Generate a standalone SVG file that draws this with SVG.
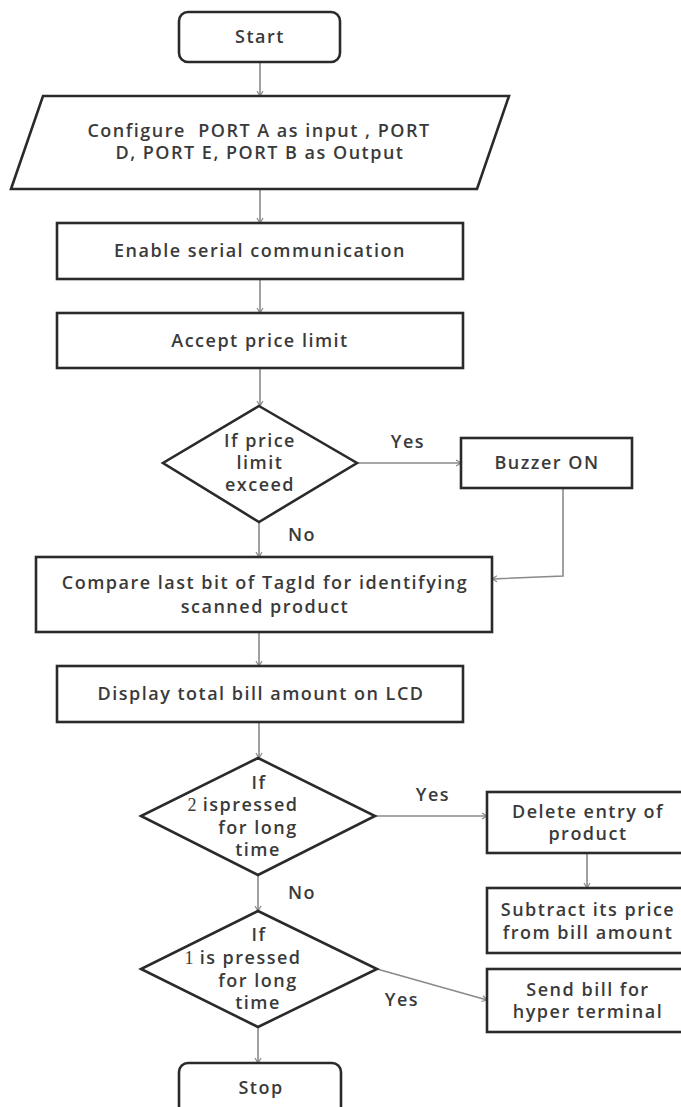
<svg xmlns="http://www.w3.org/2000/svg" width="681" height="1107" viewBox="0 0 681 1107">
<defs>
<marker id="ah" markerWidth="8" markerHeight="8" refX="6" refY="4" orient="auto" markerUnits="userSpaceOnUse">
<path d="M1,1 L6,4 L1,7" fill="none" stroke="#888" stroke-width="1.2"/>
</marker>
<style>
.shape{fill:#fff;stroke:#2a2a2a;stroke-width:2.6}
.t{font-family:"Open Sans","Noto Sans","Liberation Sans",sans-serif;font-weight:600;font-size:18px;fill:#3a3a3a;text-anchor:middle;letter-spacing:1.5px}
.n{font-family:"Liberation Serif",serif;font-weight:400;letter-spacing:0}
.c{fill:none;stroke:#8a8a8a;stroke-width:1.6;marker-end:url(#ah)}
</style>
</defs>
<rect width="681" height="1107" fill="#fff"/>
<g id="connectors">
<path class="c" d="M260,62 V96"/>
<path class="c" d="M260,189 V223"/>
<path class="c" d="M260,279 V313"/>
<path class="c" d="M260,368 V406"/>
<path class="c" d="M357,463 H461"/>
<path class="c" d="M259,522 V557"/>
<path class="c" d="M563,488 V576 L492,579"/>
<path class="c" d="M259,632 V666"/>
<path class="c" d="M259,722 V758"/>
<path class="c" d="M375,816 H487"/>
<path class="c" d="M258,875 V911"/>
<path class="c" d="M587,853 V888"/>
<path class="c" d="M377,969 L487,1000"/>
<path class="c" d="M258,1027 V1063"/>
<text class="t" x="408" y="448">Yes</text>
<text class="t" x="302" y="541">No</text>
<text class="t" x="433" y="801">Yes</text>
<text class="t" x="302" y="899">No</text>
<text class="t" x="402" y="1006">Yes</text>
</g>
<g id="start">
<rect class="shape" x="179" y="12" width="161" height="50" rx="9"/>
<text class="t" x="260" y="43">Start</text>
</g>
<g id="configure">
<polygon class="shape" points="43,96 509,96 477,189 11,189"/>
<text class="t" x="259" y="137" style="white-space:pre">Configure  PORT A as input , PORT</text>
<text class="t" x="260" y="159">D, PORT E, PORT B as Output</text>
</g>
<g id="enable">
<rect class="shape" x="57" y="223" width="406" height="56"/>
<text class="t" x="260" y="257">Enable serial communication</text>
</g>
<g id="accept">
<rect class="shape" x="57" y="313" width="406" height="55"/>
<text class="t" x="260" y="347">Accept price limit</text>
</g>
<g id="decision-price">
<polygon class="shape" points="259,406 357,463 259,522 163,463"/>
<text class="t" x="260" y="447">If price</text>
<text class="t" x="260" y="469">limit</text>
<text class="t" x="260" y="491">exceed</text>
</g>
<g id="buzzer">
<rect class="shape" x="461" y="438" width="171" height="50"/>
<text class="t" x="547" y="469">Buzzer ON</text>
</g>
<g id="compare">
<rect class="shape" x="36" y="557" width="456" height="75"/>
<text class="t" x="265" y="589">Compare last bit of TagId for identifying</text>
<text class="t" x="265" y="613">scanned product</text>
</g>
<g id="display">
<rect class="shape" x="57" y="666" width="406" height="56"/>
<text class="t" x="261" y="700">Display total bill amount on LCD</text>
</g>
<g id="decision-2">
<polygon class="shape" points="258,758 375,816 258,875 141,816"/>
<text class="t" x="259" y="789">If</text>
<text class="t" x="243" y="811"><tspan class="n">2</tspan> ispressed</text>
<text class="t" x="258" y="834">for long</text>
<text class="t" x="258" y="856">time</text>
</g>
<g id="decision-1">
<polygon class="shape" points="258,911 377,969 258,1027 141,969"/>
<text class="t" x="259" y="941">If</text>
<text class="t" x="243" y="964"><tspan class="n">1</tspan> is pressed</text>
<text class="t" x="258" y="987">for long</text>
<text class="t" x="258" y="1009">time</text>
</g>
<g id="delete">
<rect class="shape" x="487" y="792" width="200" height="61"/>
<text class="t" x="588" y="818">Delete entry of</text>
<text class="t" x="588" y="840">product</text>
</g>
<g id="subtract">
<rect class="shape" x="487" y="888" width="200" height="65"/>
<text class="t" x="588" y="916">Subtract its price</text>
<text class="t" x="588" y="939">from bill amount</text>
</g>
<g id="send">
<rect class="shape" x="487" y="969" width="200" height="63"/>
<text class="t" x="588" y="996">Send bill for</text>
<text class="t" x="588" y="1018">hyper terminal</text>
</g>
<g id="stop">
<rect class="shape" x="179" y="1063" width="162" height="60" rx="9"/>
<text class="t" x="261" y="1094">Stop</text>
</g>
</svg>
